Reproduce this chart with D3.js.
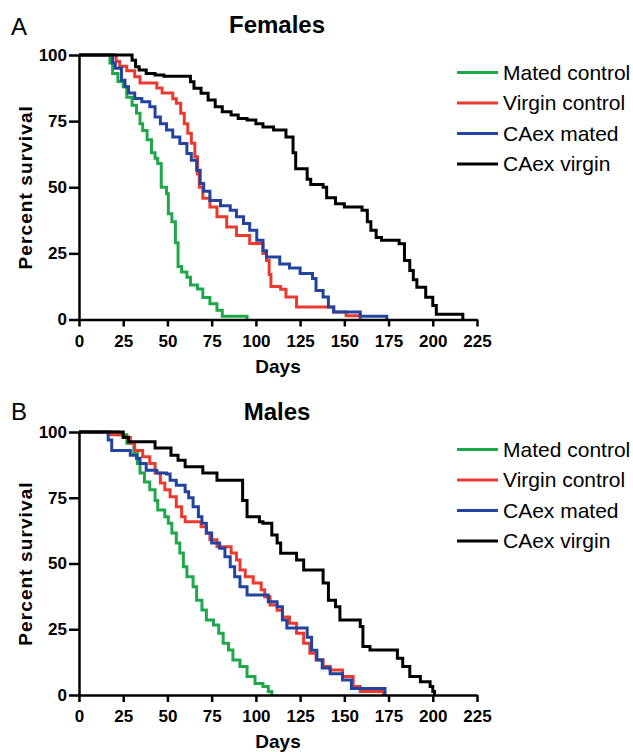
<!DOCTYPE html>
<html>
<head>
<meta charset="utf-8">
<script src="https://cdn.jsdelivr.net/npm/d3@7"></script>
<style>
  html, body { margin: 0; padding: 0; background: #fff; }
  svg { display: block; font-family: "Liberation Sans", Arial, Helvetica, sans-serif; }
</style>
</head>
<body>
<svg id="chart" width="633" height="752"></svg>
<script>
// ---------- DATA (step points: [day, percent survival from that day on]) ----------
const seriesNames = ["Mated control", "Virgin control", "CAex mated", "CAex virgin"];
const seriesColors = ["#1ea84a", "#ea3a30", "#2244a0", "#000000"];
const xTicks = [0, 25, 50, 75, 100, 125, 150, 175, 200, 225];
const yTicks = [0, 25, 50, 75, 100];

const femMatedControl = [[0,100],[17.5,97],[19,93],[22,90],[25,88],[27,84],[30,81],[32.5,78],[34.5,74],[36,71.5],[38.5,68],[41,63],[43,61],[44.5,59],[46.5,50],[49.5,47.5],[50.5,40],[52.5,37],[54.5,29],[56,20],[58,18],[61,16],[63,13],[67,11.5],[70,8.3],[74,6],[78,3.5],[81,1.2],[95,0]];
const femVirginControl = [[0,100],[21,97.5],[23,95.7],[27,94],[31.5,91.8],[34.5,89.4],[44,87.5],[47,85.6],[53,83.5],[55,81.8],[57.5,78],[59.5,74],[61.5,70.4],[63.5,66.6],[65.5,61.5],[67,55],[68,50],[70,45.8],[74,42.5],[78,38.8],[83.5,35],[89,31.8],[96.5,28.7],[104,25],[106,22.3],[107.5,17],[108.5,12.5],[114,11.4],[117,8.5],[123,4.7],[144,2.8],[151,1.4],[159,0]];
const femCAexMated = [[0,100],[19,97],[20.5,95],[24,90.5],[26,88],[28,85.6],[31.5,83.6],[35.5,82.3],[40,80.4],[43,76.6],[46,74],[49.5,71.6],[53,69],[57,66.5],[61,62.8],[63.5,60.2],[66.5,56.4],[68.5,51.4],[70.5,48.5],[74,45],[80,43],[85.5,41.3],[89,38.8],[93,36.3],[96.5,33.7],[100.5,30],[104,26],[106,23.6],[113.5,21],[119,19.5],[125,17.4],[132,15.5],[134,11],[138,8.5],[141,4.7],[144,2.8],[159,1.2],[174,0]];
const femCAexVirgin = [[0,100],[30,98],[32,95.6],[34,94.3],[38,93],[43,92.4],[48,92],[63,89.9],[65,87.4],[69,85.5],[73,83],[77,80.4],[81,78.5],[86,77.3],[90,76],[95,75.4],[100,74],[104,72.8],[110,71.6],[117,69],[121,63],[122.5,57],[129,53],[131,51],[138,50],[140,46],[145,43.8],[150,42.5],[160,41.3],[163,37],[165,33.7],[168,31],[171,30],[181,28.6],[184,22.3],[187,18.5],[189,15],[191,12.2],[196,8.4],[200,5.3],[202,2],[217,0]];

const maleMatedControl = [[0,100],[22,99],[27,95.7],[31,92],[33,88],[34.5,84.4],[37,81],[40,78],[43,74],[44.5,70.3],[48.5,67.8],[50.5,65.3],[52.5,61.6],[55,57.8],[57,54],[59,48.8],[61,45],[64.5,41.2],[66.5,36],[69.5,32.3],[72,28.5],[76,26.6],[79,23.5],[81.5,19.7],[84.5,17.1],[87,13.3],[91,10.8],[95,7],[99.5,4.4],[104,3.2],[107,1.3],[109,0]];
const maleVirginControl = [[0,100],[18,99],[25,97.9],[29,95.7],[31.5,93],[36,90.6],[40,88],[43,84.4],[46,80.6],[48.5,78],[51.5,75.4],[55,71.6],[58,67.8],[60,65.9],[69,64],[72,61.5],[74,59],[78,56.4],[86,54],[89,51.3],[91,47.5],[94,45],[98.5,42.6],[103,40],[105,37.4],[108,34.2],[112,32.2],[115,29.7],[119,27.3],[123,23.5],[127,19.7],[130.5,15.9],[134,13.4],[138,10.8],[142,9.5],[149,7],[155,3.2],[159,1.3],[172,0]];
const maleCAexMated = [[0,100],[16.5,97],[18.5,93],[29,91.2],[32.5,90],[34.5,88],[38,85.5],[44,84.4],[49.5,84],[51.5,81.7],[55,79.8],[60,77.3],[62,75],[64.5,71.6],[67.5,67.8],[69.5,65.3],[72,61.6],[75,57.8],[79.5,55.8],[82.5,52.6],[85.5,48.8],[88,45],[91,41.2],[95,38],[107,35.5],[112,33.6],[115,28.5],[117.5,25.5],[129,22],[131.5,17],[134.5,13.3],[137.5,10.3],[142,8.1],[149,5.7],[154,2.5],[173,0]];
const maleCAexVirgin = [[0,100],[25,98],[28,96.3],[43,93.9],[52,91.2],[56,89.3],[60,86.8],[70,84.4],[78,81.7],[92.5,74],[95,67.8],[102,65.9],[104,65.3],[109,60.8],[112,57.8],[114,53.9],[123,51.3],[127,47.5],[138,42.6],[141,36],[145,33.6],[147.5,28.5],[159,26],[160.5,18.4],[164.5,17.1],[180,14],[183,10.8],[187,7],[193,5],[198.5,3.2],[200,1.3],[201,0]];

const femalesSeries = [femMatedControl, femVirginControl, femCAexMated, femCAexVirgin];
const malesSeries = [maleMatedControl, maleVirginControl, maleCAexMated, maleCAexVirgin];

// ---------- LAYOUT ----------
const svg = d3.select("#chart");
const panels = [
  { letter: "A", title: "Females", series: femalesSeries, top: 55, bottom: 319.5, titleY: 33, letterY: 35 },
  { letter: "B", title: "Males",   series: malesSeries,   top: 432, bottom: 695, titleY: 420, letterY: 420 }
];
const x = d3.scaleLinear().domain([0, 225]).range([79, 477]);

panels.forEach(p => {
  const y = d3.scaleLinear().domain([0, 100]).range([p.bottom, p.top]);
  const g = svg.append("g");

  // panel letter
  g.append("text").attr("x", 11).attr("y", p.letterY)
    .attr("font-size", 24).attr("fill", "#000").text(p.letter);
  // title
  g.append("text").attr("x", 277).attr("y", p.titleY)
    .attr("text-anchor", "middle").attr("font-size", 24).attr("font-weight", "bold")
    .text(p.title);

  // series
  const line = d3.line().x(d => x(d[0])).y(d => y(d[1])).curve(d3.curveStepAfter);
  p.series.forEach((s, i) => {
    g.append("path").datum(s)
      .attr("d", line)
      .attr("fill", "none")
      .attr("stroke", seriesColors[i])
      .attr("stroke-width", 3)
      .attr("stroke-linejoin", "miter");
  });

  // axes
  const xAxis = d3.axisBottom(x).tickValues(xTicks).tickSizeInner(7).tickSizeOuter(0).tickPadding(8);
  const yAxis = d3.axisLeft(y).tickValues(yTicks).tickSizeInner(10).tickSizeOuter(0).tickPadding(2);
  const gx = g.append("g").attr("transform", `translate(0,${p.bottom})`).call(xAxis);
  const gy = g.append("g").attr("transform", `translate(${x(0)},0)`).call(yAxis);
  [gx, gy].forEach(ax => {
    ax.selectAll("path, line").attr("stroke", "#000").attr("stroke-width", 2.5);
    ax.selectAll("text").attr("font-size", 17).attr("font-weight", "bold")
      .attr("fill", "#000").attr("font-family", "'Liberation Sans', Arial, sans-serif");
  });

  // axis labels
  g.append("text").attr("x", 278).attr("y", p.bottom + 53)
    .attr("text-anchor", "middle").attr("font-size", 19).attr("font-weight", "bold")
    .text("Days");
  g.append("text")
    .attr("transform", `translate(32,${(p.top + p.bottom) / 2}) rotate(-90)`)
    .attr("text-anchor", "middle").attr("font-size", 19).attr("font-weight", "bold")
    .attr("letter-spacing", 1.1)
    .text("Percent survival");

  // legend
  const lg = g.append("g");
  seriesNames.forEach((name, i) => {
    const ly = p.top + 17.5 + i * 30.5;
    lg.append("line").attr("x1", 457).attr("x2", 498).attr("y1", ly).attr("y2", ly)
      .attr("stroke", seriesColors[i]).attr("stroke-width", 3);
    lg.append("text").attr("x", 503).attr("y", ly).attr("dy", "0.35em")
      .attr("font-size", 21).attr("fill", "#000").text(name);
  });
});
</script>
</body>
</html>
